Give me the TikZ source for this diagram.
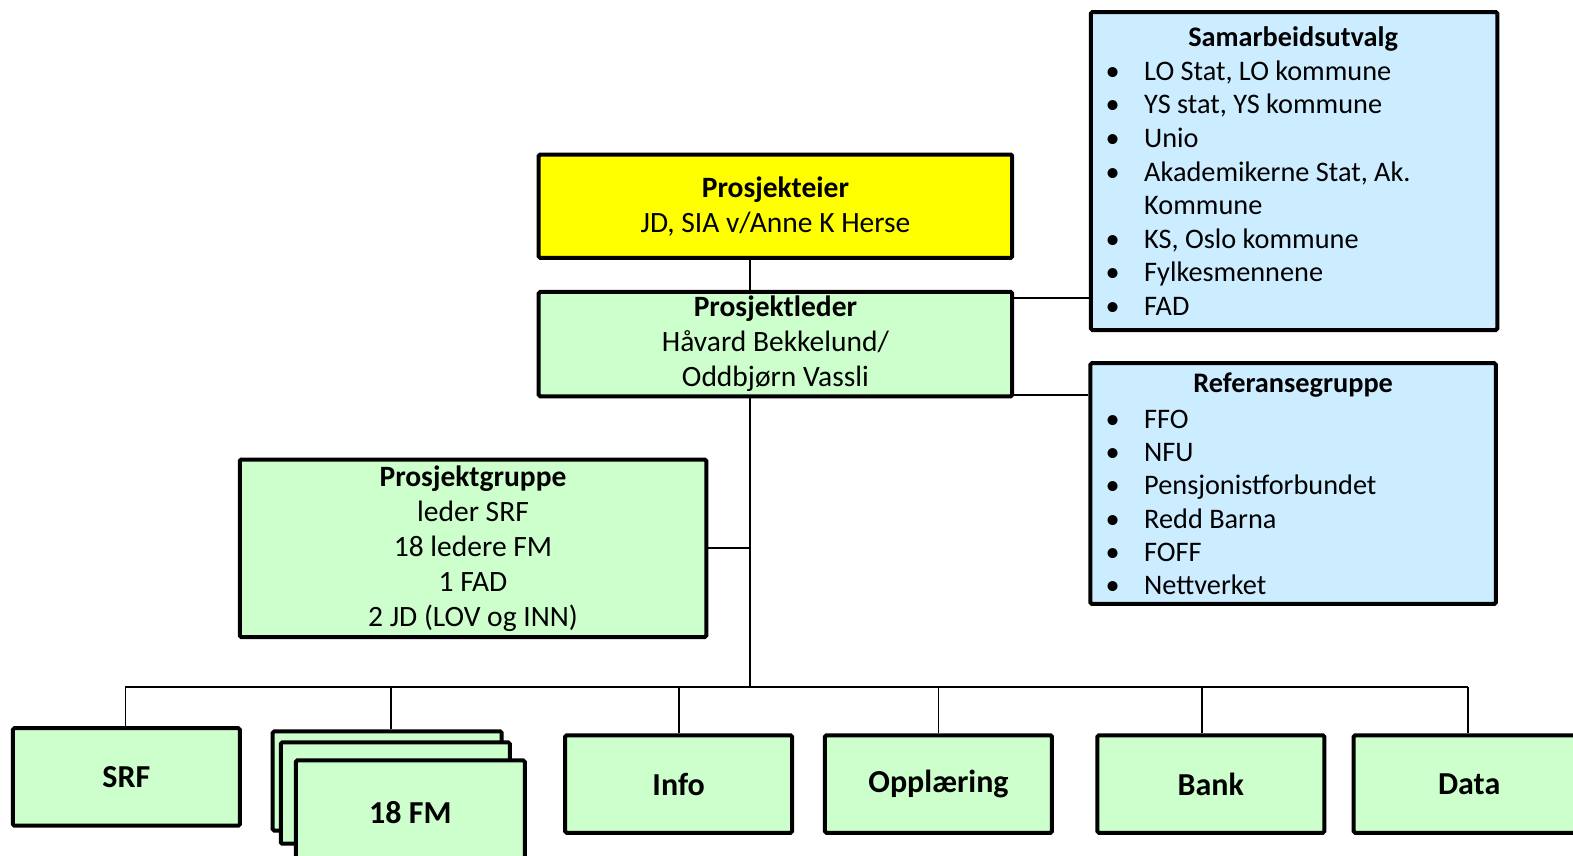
\documentclass[tikz,border=0pt]{standalone}
\usepackage{fontspec}
\setmainfont{Carlito}
\definecolor{boxyellow}{HTML}{FFFF00}
\definecolor{boxgreen}{HTML}{CCFFCC}
\definecolor{boxblue}{HTML}{CCECFF}
\tikzset{
  box/.style={draw=black, line width=4pt, rounded corners=1.5pt, inner sep=0pt, align=center,
              font=\fontsize{29.5}{35}\selectfont},
  greenbox/.style={box, fill=boxgreen},
  yellowbox/.style={box, fill=boxyellow},
  bluebox/.style={box, fill=boxblue},
  unitbox/.style={greenbox, minimum width=227pt, minimum height=97.5pt,
                  font=\bfseries\fontsize{32}{36}\selectfont},
  conn/.style={draw=black, line width=1.8pt},
  listtitle/.style={anchor=base, inner sep=0pt, font=\bfseries\fontsize{28.3}{33}\selectfont},
  listitem/.style={anchor=base west, inner sep=0pt, font=\fontsize{28.3}{33}\selectfont},
}
\newcommand{\bul}{\makebox[38.5pt][l]{•}}
\begin{document}
\begin{tikzpicture}[x=1.0032pt,y=-1.0032pt]
\useasboundingbox (0,0) rectangle (1568,853);
\fill[white] (0,0) rectangle (1568,853);

% top boxes
\node[yellowbox, minimum width=473.5pt, minimum height=103.3pt] (pe) at (773,205.5)
  {\rule{0pt}{4pt}\textbf{Prosjekteier}\\JD, SIA v/Anne K Herse};
\node[greenbox, minimum width=473.5pt, minimum height=104.3pt] (pl) at (773,343)
  {\textbf{Prosjektleder}\\Håvard Bekkelund/\\Oddbjørn Vassli};
\node[greenbox, minimum width=466.5pt, minimum height=177.5pt] (pg) at (471.5,546.5)
  {\textbf{Prosjektgruppe}\\leder SRF\\18 ledere FM\\1 FAD\\2 JD (LOV og INN)};

% side boxes
\node[bluebox, minimum width=406.3pt, minimum height=318pt] (su) at (1290,170.5) {};
\node[listtitle] (sut) at (1289,46) {Samarbeidsutvalg};
\node[listitem] (su1) at (1102,80) {\bul LO Stat, LO kommune};
\node[listitem] (su2) at (1102,113.5) {\bul YS stat, YS kommune};
\node[listitem] (su3) at (1102,147) {\bul Unio};
\node[listitem] (su4) at (1102,180.5) {\bul Akademikerne Stat, Ak.};
\node[listitem] (su5) at (1102,214) {\hspace*{38.5pt}Kommune};
\node[listitem] (su6) at (1102,247.5) {\bul KS, Oslo kommune};
\node[listitem] (su7) at (1102,281) {\bul Fylkesmennene};
\node[listitem] (su8) at (1102,314.5) {\bul FAD};

\node[bluebox, minimum width=405.3pt, minimum height=240.8pt] (rg) at (1289,482) {};
\node[listtitle] (rgt) at (1289,391) {Referansegruppe};
\node[listitem] (rg1) at (1102,427) {\bul FFO};
\node[listitem] (rg2) at (1102,460.2) {\bul NFU};
\node[listitem] (rg3) at (1102,493.4) {\bul Pensjonistforbundet};
\node[listitem] (rg4) at (1102,526.6) {\bul Redd Barna};
\node[listitem] (rg5) at (1102,559.8) {\bul FOFF};
\node[listitem] (rg6) at (1102,593) {\bul Nettverket};

% bottom boxes
\node[unitbox] (srf) at (126,774.5) {SRF};
\node[greenbox, minimum width=229pt, minimum height=99.3pt] (fm3) at (386,778.5) {};
\node[greenbox, minimum width=229pt, minimum height=101.3pt] (fm2) at (394,790.5) {};
\node[unitbox, minimum width=229pt, minimum height=103.3pt] (fm1) at (409,809.5) {18 FM};
\node[unitbox] (info) at (676.5,781.5) {Info};
\node[unitbox] (opp) at (935.5,781.5) {Opplæring};
\node[unitbox] (bank) at (1207,781.5) {Bank};
\node[unitbox, minimum width=231pt] (data) at (1464.5,781.5) {Data};

% connectors
\coordinate (bus) at (748,685);
\coordinate (busL) at (125,685);
\coordinate (busR) at (1463,685);
\draw[conn] (pe.south -| bus) -- (pl.north -| bus);
\draw[conn] (pl.south -| bus) -- (bus);
\draw[conn] (pg.east) -- (pg.east -| bus);
\draw[conn] ([yshift=-8pt]pl.north east) -- ([yshift=-8pt]pl.north east -| su.west);
\draw[conn] ([yshift=3pt]pl.south east) -- ([yshift=3pt]pl.south east -| rg.west);
\draw[conn] (busL) -- (busR);
\draw[conn] (busL) -- (busL |- srf.north);
\draw[conn] ([xshift=4pt]fm3.north) -- ([xshift=4pt]fm3.north |- bus);
\draw[conn] (info.north) -- (info.north |- bus);
\draw[conn] (opp.north) -- (opp.north |- bus);
\draw[conn] ([xshift=-9pt]bank.north) -- ([xshift=-9pt]bank.north |- bus);
\draw[conn] (busR) -- (busR |- data.north);
\end{tikzpicture}
\end{document}
